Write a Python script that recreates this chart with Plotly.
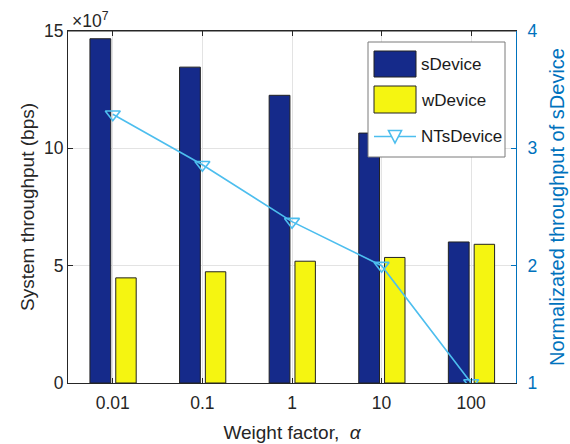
import plotly.graph_objects as go

# Weight factor categories
alphas = ["0.01", "0.1", "1", "10", "100"]

# System throughput (bps)
s_device = [14.67e7, 13.46e7, 12.26e7, 10.65e7, 6.01e7]
w_device = [4.48e7, 4.74e7, 5.19e7, 5.35e7, 5.91e7]

# Normalized throughput of sDevice
nts_device = [3.29, 2.86, 2.375, 2.0, 1.0]

left_ticks = [0, 5e7, 10e7, 15e7]
left_tick_text = ["0", "5", "10", "15"]
right_ticks = [1, 2, 3, 4]

FONT = "Liberation Sans, Arial, Helvetica, sans-serif"
AX_BLUE = "#0072BD"
BAR_BLUE = "#152A8A"
BAR_YELLOW = "#F5F511"
LINE_CYAN = "#4DBEEE"
EDGE = "#222222"

W, H = 570, 444
ML, MR, MT, MB = 68, 54, 31, 61
PW, PH = W - ML - MR, H - MT - MB


def px(x):
    return (x - ML) / PW


def py(y):
    return (H - MB - y) / PH


fig = go.Figure()

fig.add_trace(go.Bar(
    x=alphas, y=s_device, name="sDevice",
    marker=dict(color=BAR_BLUE, line=dict(color=EDGE, width=1)),
    offset=-0.255, width=0.232,
))
fig.add_trace(go.Bar(
    x=alphas, y=w_device, name="wDevice",
    marker=dict(color=BAR_YELLOW, line=dict(color=EDGE, width=1)),
    offset=0.033, width=0.228,
))
fig.add_trace(go.Scatter(
    x=alphas, y=nts_device, name="NTsDevice", yaxis="y2",
    mode="lines+markers",
    line=dict(color=LINE_CYAN, width=1.6),
    marker=dict(symbol="triangle-down-open", size=13,
                line=dict(color=LINE_CYAN, width=1.6)),
))

fig.update_layout(
    width=W, height=H,
    margin=dict(l=ML, r=MR, t=MT, b=MB, autoexpand=False),
    paper_bgcolor="white", plot_bgcolor="white",
    barmode="overlay",
    showlegend=False,
    font=dict(family=FONT, size=17, color="#262626"),
    xaxis=dict(
        type="category", range=[-0.5, 4.5], automargin=False,
        showgrid=True, gridcolor="#E3E3E3", gridwidth=1,
        showline=True, linecolor="#262626", linewidth=1, mirror="ticks",
        ticks="inside", ticklen=5, tickcolor="#262626",
        tickfont=dict(size=17.5, color="#262626"),
        ticklabelstandoff=4,
        title=dict(text="Weight factor,  <i>α</i>", font=dict(size=19, color="#262626"), standoff=13),
    ),
    yaxis=dict(
        range=[0, 15e7], tickvals=left_ticks, ticktext=left_tick_text, automargin=False,
        showgrid=True, gridcolor="#E3E3E3", gridwidth=1,
        showline=True, linecolor="#262626", linewidth=1,
        ticks="inside", ticklen=5, tickcolor="#262626",
        tickfont=dict(size=17.5, color="#262626"),
        zeroline=False,
        title=dict(text="System throughput (bps)", font=dict(size=19, color="#262626"), standoff=4),
    ),
    yaxis2=dict(
        overlaying="y", side="right", range=[1, 4], tickvals=right_ticks, automargin=False,
        showgrid=False, zeroline=False,
        showline=True, linecolor=AX_BLUE, linewidth=1,
        ticks="inside", ticklen=5, tickcolor=AX_BLUE,
        tickfont=dict(size=17.5, color=AX_BLUE),
        ticklabelstandoff=7,
        title=dict(text="Normalizated throughput of sDevice", font=dict(size=20, color=AX_BLUE), standoff=13),
    ),
)

# Top border of the axes box
fig.add_shape(type="line", xref="paper", yref="paper", x0=0, x1=1, y0=1, y1=1,
              line=dict(color="#262626", width=1))

# Exponent label for the left axis
fig.add_annotation(text="×10<sup>7</sup>", xref="paper", yref="paper",
                   x=px(70), y=1.0, xanchor="left", yanchor="bottom", yshift=-2,
                   showarrow=False, font=dict(size=17.5, color="#262626"))

# Legend box with large swatches
fig.add_shape(type="rect", xref="paper", yref="paper",
              x0=px(368), x1=px(505), y0=py(157), y1=py(42),
              fillcolor="white", line=dict(color="#7A7A7A", width=1), layer="above")
fig.add_shape(type="rect", xref="paper", yref="paper",
              x0=px(374), x1=px(416), y0=py(77), y1=py(51),
              fillcolor=BAR_BLUE, line=dict(color=EDGE, width=1), layer="above")
fig.add_shape(type="rect", xref="paper", yref="paper",
              x0=px(374), x1=px(416), y0=py(113), y1=py(86),
              fillcolor=BAR_YELLOW, line=dict(color=EDGE, width=1), layer="above")
fig.add_shape(type="line", xref="paper", yref="paper",
              x0=px(374), x1=px(416), y0=py(136.5), y1=py(136.5),
              line=dict(color=LINE_CYAN, width=1.6), layer="above")
tri_path = "M {:.5f} {:.5f} L {:.5f} {:.5f} L {:.5f} {:.5f} Z".format(
    px(388.5), py(130.5), px(401.5), py(130.5), px(395), py(143))
fig.add_shape(type="path", xref="paper", yref="paper", path=tri_path,
              fillcolor="white", line=dict(color=LINE_CYAN, width=1.6), layer="above")

legend_names = ["sDevice", "wDevice", "NTsDevice"]
legend_y = [64, 100, 136.5]
for name, ly in zip(legend_names, legend_y):
    fig.add_annotation(text=name, xref="paper", yref="paper",
                       x=px(419), y=py(ly), xanchor="left", yanchor="middle",
                       showarrow=False, font=dict(size=17, color="#1a1a1a"))

fig.write_html("out.html")
